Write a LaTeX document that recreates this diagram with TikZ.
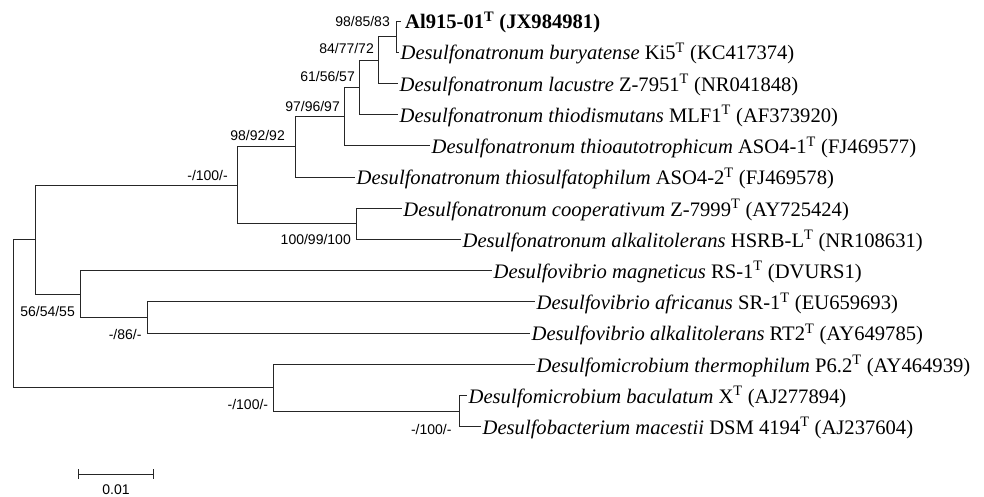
\documentclass[tikz,border=0pt]{standalone}
\usepackage{fontspec}
\setmainfont{Liberation Serif}
\newfontfamily\labfont{Liberation Sans}
\begin{document}
\begin{tikzpicture}[x=1pt,y=-1pt,
  br/.style={draw=black!85,line width=0.9pt},
  leaf/.style={anchor=base west,inner sep=0pt,font=\fontsize{20.6}{22}\selectfont},
  boot/.style={anchor=east,inner sep=0pt,font=\labfont\fontsize{14}{15}\selectfont}]
\useasboundingbox (0,0) rectangle (984,497);
% leaf ends
\coordinate (e1) at (401,21);
\coordinate (e2) at (399,52.2);
\coordinate (e3) at (398,83.4);
\coordinate (e4) at (398,114.6);
\coordinate (e5) at (430,145.8);
\coordinate (e6) at (355,177.0);
\coordinate (e7) at (401.7,208.2);
\coordinate (e8) at (461,239.4);
\coordinate (e9) at (492,270.6);
\coordinate (e10) at (535,301.8);
\coordinate (e11) at (530,333.0);
\coordinate (e12) at (535,364.2);
\coordinate (e13) at (467,395.5);
\coordinate (e14) at (481,426.7);
% internal nodes
\coordinate (nA) at (396,36.6);
\coordinate (nB) at (378.3,60.0);
\coordinate (nC) at (359,87.3);
\coordinate (nD) at (344.3,116.55);
\coordinate (nE) at (295,146.8);
\coordinate (nF) at (356,223.8);
\coordinate (nG) at (237.7,185.3);
\coordinate (nI) at (147.7,317.4);
\coordinate (nH) at (80,294.0);
\coordinate (nJ) at (35,239.65);
\coordinate (nK) at (459,411.1);
\coordinate (nL) at (273.3,387.65);
\coordinate (root) at (13.3,313.65);
% leaf labels
\node[leaf,font=\bfseries\fontsize{20.6}{22}\selectfont] (t1) at ([xshift=4pt,yshift=-7.8pt]e1) {Al915-01\textsuperscript{T} (JX984981)};
\node[leaf] (t2) at ([xshift=1.5pt,yshift=-7.8pt]e2) {\textit{Desulfonatronum buryatense} Ki5\textsuperscript{T} (KC417374)};
\node[leaf] (t3) at ([xshift=1.5pt,yshift=-7.8pt]e3) {\textit{Desulfonatronum lacustre} Z-7951\textsuperscript{T} (NR041848)};
\node[leaf] (t4) at ([xshift=1.5pt,yshift=-7.8pt]e4) {\textit{Desulfonatronum thiodismutans} MLF1\textsuperscript{T} (AF373920)};
\node[leaf] (t5) at ([xshift=1.5pt,yshift=-7.8pt]e5) {\textit{Desulfonatronum thioautotrophicum} ASO4-1\textsuperscript{T} (FJ469577)};
\node[leaf] (t6) at ([xshift=1.5pt,yshift=-7.8pt]e6) {\textit{Desulfonatronum thiosulfatophilum} ASO4-2\textsuperscript{T} (FJ469578)};
\node[leaf] (t7) at ([xshift=1.5pt,yshift=-7.8pt]e7) {\textit{Desulfonatronum cooperativum} Z-7999\textsuperscript{T} (AY725424)};
\node[leaf] (t8) at ([xshift=1.5pt,yshift=-7.8pt]e8) {\textit{Desulfonatronum alkalitolerans} HSRB-L\textsuperscript{T} (NR108631)};
\node[leaf] (t9) at ([xshift=1.5pt,yshift=-7.8pt]e9) {\textit{Desulfovibrio magneticus} RS-1\textsuperscript{T} (DVURS1)};
\node[leaf] (t10) at ([xshift=1.5pt,yshift=-7.8pt]e10) {\textit{Desulfovibrio africanus} SR-1\textsuperscript{T} (EU659693)};
\node[leaf] (t11) at ([xshift=1.5pt,yshift=-7.8pt]e11) {\textit{Desulfovibrio alkalitolerans} RT2\textsuperscript{T} (AY649785)};
\node[leaf] (t12) at ([xshift=1.5pt,yshift=-7.8pt]e12) {\textit{Desulfomicrobium thermophilum} P6.2\textsuperscript{T} (AY464939)};
\node[leaf] (t13) at ([xshift=1.5pt,yshift=-7.8pt]e13) {\textit{Desulfomicrobium baculatum} X\textsuperscript{T} (AJ277894)};
\node[leaf] (t14) at ([xshift=1.5pt,yshift=-7.8pt]e14) {\textit{Desulfobacterium macestii} DSM 4194\textsuperscript{T} (AJ237604)};
% branches
\draw[br] (nA) |- (e1);
\draw[br] (nA) |- (e2);
\draw[br] (nB) |- (nA);
\draw[br] (nB) |- (e3);
\draw[br] (nC) |- (nB);
\draw[br] (nC) |- (e4);
\draw[br] (nD) |- (nC);
\draw[br] (nD) |- (e5);
\draw[br] (nE) |- (nD);
\draw[br] (nE) |- (e6);
\draw[br] (nF) |- (e7);
\draw[br] (nF) |- (e8);
\draw[br] (nG) |- (nE);
\draw[br] (nG) |- (nF);
\draw[br] (nI) |- (e10);
\draw[br] (nI) |- (e11);
\draw[br] (nH) |- (e9);
\draw[br] (nH) |- (nI);
\draw[br] (nJ) |- (nG);
\draw[br] (nJ) |- (nH);
\draw[br] (nK) |- (e13);
\draw[br] (nK) |- (e14);
\draw[br] (nL) |- (e12);
\draw[br] (nL) |- (nK);
\draw[br] (root) |- (nJ);
\draw[br] (root) |- (nL);
% bootstrap values
\node[boot] (b1) at (390,21.3) {98/85/83};
\node[boot] (b2) at (374,48.3) {84/77/72};
\node[boot] (b3) at (355,76) {61/56/57};
\node[boot] (b4) at (340,106) {97/96/97};
\node[boot] (b5) at (285,135.7) {98/92/92};
\node[boot] (b6) at (228,175.7) {-/100/-};
\node[boot] (b7) at (351,239.3) {100/99/100};
\node[boot] (b8) at (75,311.7) {56/54/55};
\node[boot] (b9) at (141.7,334) {-/86/-};
\node[boot] (b10) at (268.3,404) {-/100/-};
\node[boot] (b11) at (451.7,429) {-/100/-};
% scale bar
\coordinate (s1) at (78.7,474);
\coordinate (s2) at (153.3,474);
\draw[br] (s1) -- (s2);
\draw[br] ([yshift=5pt]s1) -- ([yshift=-5pt]s1);
\draw[br] ([yshift=5pt]s2) -- ([yshift=-5pt]s2);
\node[font=\labfont\fontsize{14}{15}\selectfont,inner sep=0pt] (sl) at (116,490) {0.01};
\end{tikzpicture}
\end{document}
